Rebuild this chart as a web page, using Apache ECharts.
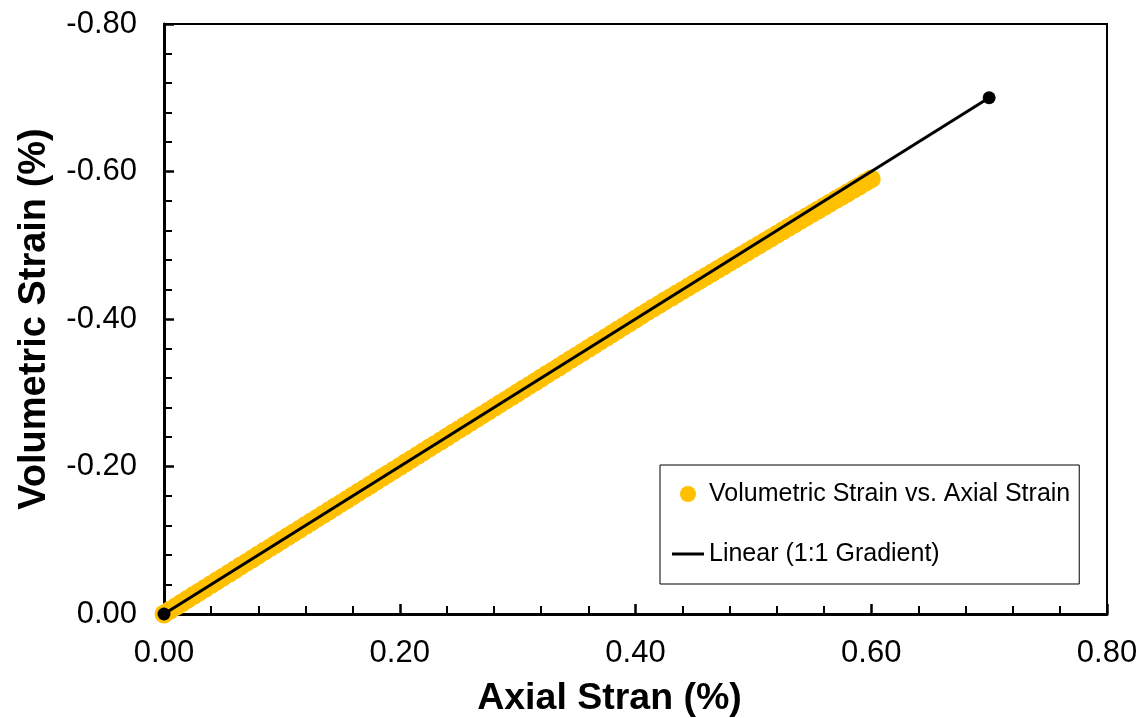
<!DOCTYPE html>
<html>
<head>
<meta charset="utf-8">
<script src="https://cdn.jsdelivr.net/npm/echarts@6/dist/echarts.min.js"></script>
<style>html,body{margin:0;padding:0;background:#fff;}#c{width:1148px;height:718px;}</style>
</head>
<body>
<div id="c"></div>
<script>
// Data
const axialStrain = [
  0.000,0.005,0.010,0.015,0.020,0.025,0.030,0.035,0.040,0.045,
  0.050,0.055,0.060,0.065,0.070,0.075,0.080,0.085,0.090,0.095,
  0.100,0.105,0.110,0.115,0.120,0.125,0.130,0.135,0.140,0.145,
  0.150,0.155,0.160,0.165,0.170,0.175,0.180,0.185,0.190,0.195,
  0.200,0.205,0.210,0.215,0.220,0.225,0.230,0.235,0.240,0.245,
  0.250,0.255,0.260,0.265,0.270,0.275,0.280,0.285,0.290,0.295,
  0.300,0.305,0.310,0.315,0.320,0.325,0.330,0.335,0.340,0.345,
  0.350,0.355,0.360,0.365,0.370,0.375,0.380,0.385,0.390,0.395,
  0.400,0.405,0.410,0.415,0.420,0.425,0.430,0.435,0.440,0.445,
  0.450,0.455,0.460,0.465,0.470,0.475,0.480,0.485,0.490,0.495,
  0.500,0.505,0.510,0.515,0.520,0.525,0.530,0.535,0.540,0.545,
  0.550,0.555,0.560,0.565,0.570,0.575,0.580,0.585,0.590,0.595,
  0.600
];
const volumetricStrain = [
  0.000,-0.005,-0.010,-0.015,-0.020,-0.025,-0.030,-0.035,-0.040,-0.045,
  -0.050,-0.055,-0.060,-0.065,-0.070,-0.075,-0.080,-0.085,-0.090,-0.095,
  -0.100,-0.105,-0.110,-0.115,-0.120,-0.125,-0.130,-0.135,-0.140,-0.145,
  -0.150,-0.155,-0.160,-0.165,-0.170,-0.175,-0.180,-0.185,-0.190,-0.195,
  -0.200,-0.205,-0.210,-0.215,-0.220,-0.225,-0.230,-0.235,-0.240,-0.245,
  -0.250,-0.255,-0.260,-0.265,-0.270,-0.275,-0.280,-0.285,-0.290,-0.295,
  -0.300,-0.305,-0.310,-0.315,-0.320,-0.325,-0.330,-0.335,-0.340,-0.345,
  -0.350,-0.355,-0.360,-0.365,-0.370,-0.375,-0.380,-0.385,-0.390,-0.395,
  -0.400,-0.405,-0.410,-0.4148,-0.4195,-0.4247,-0.4292,-0.4341,-0.4388,-0.4436,
  -0.4484,-0.4532,-0.4580,-0.4628,-0.4675,-0.4723,-0.4770,-0.4818,-0.4865,-0.4913,
  -0.4960,-0.5008,-0.5055,-0.5102,-0.5150,-0.5197,-0.5244,-0.5291,-0.5338,-0.5385,
  -0.5432,-0.5479,-0.5525,-0.5572,-0.5619,-0.5665,-0.5712,-0.5758,-0.5805,-0.5853,
  -0.5900
];
const lineX = [0, 0.7];
const lineY = [0, -0.7];
const seriesNames = ['Volumetric Strain vs. Axial Strain', 'Linear (1:1 Gradient)'];
const xTitle = 'Axial Stran (%)';
const yTitle = 'Volumetric Strain (%)';

const scatterData = axialStrain.map((x, i) => [x, volumetricStrain[i]]);
const lineData = lineX.map((x, i) => [x, lineY[i]]);

const FONT = '"Liberation Sans", Arial, sans-serif';
const fmt = v => (Math.abs(v) < 1e-9 ? '0.00' : v.toFixed(2));

const chart = echarts.init(document.getElementById('c'), null, {renderer: 'canvas'});
chart.setOption({
  animation: false,
  backgroundColor: '#ffffff',
  grid: {
    left: 164, right: 41, top: 24, bottom: 104,
    containLabel: false, outerBoundsMode: 'none',
    show: true, borderColor: '#000', borderWidth: 2, backgroundColor: 'transparent'
  },
  legend: {
    orient: 'vertical',
    left: 660, top: 465,
    padding: [14, 9, 15, 12],
    itemGap: 30,
    itemWidth: 32, itemHeight: 16,
    borderColor: '#000', borderWidth: 1,
    backgroundColor: '#fff',
    textStyle: {fontFamily: FONT, fontSize: 25, color: '#000', lineHeight: 30},
    data: [
      {name: seriesNames[0], icon: 'circle'},
      {name: seriesNames[1], icon: 'path://M0,0 L32,0 L32,3 L0,3 Z'}
    ]
  },
  xAxis: {
    type: 'value', min: 0, max: 0.8, interval: 0.2,
    name: xTitle, nameLocation: 'middle', nameGap: 66,
    nameTextStyle: {fontFamily: FONT, fontSize: 37.5, fontWeight: 'bold', color: '#000', padding: [0, 52, 0, 0]},
    axisLine: {show: true, onZero: false, lineStyle: {color: '#000', width: 3}},
    axisTick: {show: true, inside: true, length: 10, lineStyle: {color: '#000', width: 2.5}},
    minorTick: {show: true, splitNumber: 5, length: 8, lineStyle: {color: '#000', width: 2}},
    axisLabel: {fontFamily: FONT, fontSize: 31, color: '#000', margin: 24, formatter: fmt},
    splitLine: {show: false}
  },
  yAxis: {
    type: 'value', min: -0.8, max: 0, interval: 0.2, inverse: true,
    name: yTitle, nameLocation: 'middle', nameGap: 110, nameRotate: 90,
    nameTextStyle: {fontFamily: FONT, fontSize: 38, fontWeight: 'bold', color: '#000'},
    axisLine: {show: true, onZero: false, lineStyle: {color: '#000', width: 3}},
    axisTick: {show: true, inside: true, length: 10, lineStyle: {color: '#000', width: 2.5}},
    minorTick: {show: true, splitNumber: 5, length: 8, lineStyle: {color: '#000', width: 2}},
    axisLabel: {fontFamily: FONT, fontSize: 31, color: '#000', margin: 27, formatter: fmt},
    splitLine: {show: false}
  },
  series: [
    {
      name: seriesNames[0], type: 'scatter',
      data: scatterData,
      symbol: 'circle', symbolSize: 19,
      itemStyle: {color: '#FFC000', opacity: 1},
      z: 2
    },
    {
      name: seriesNames[1], type: 'line',
      data: lineData,
      symbol: 'circle', symbolSize: 13, showSymbol: true,
      lineStyle: {color: '#000', width: 3},
      itemStyle: {color: '#000'},
      z: 3
    }
  ]
});
</script>
</body>
</html>
